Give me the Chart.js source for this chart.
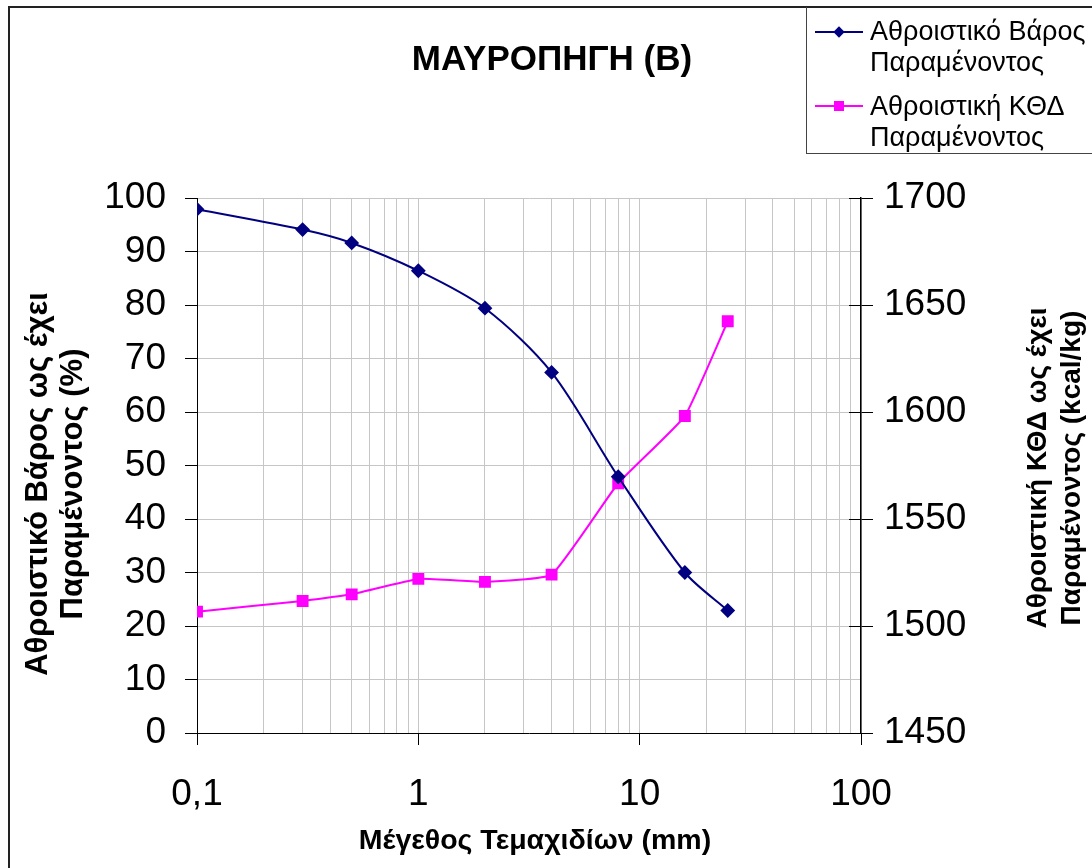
<!DOCTYPE html>
<html lang="el">
<head>
<meta charset="utf-8">
<title>ΜΑΥΡΟΠΗΓΗ (Β)</title>
<script src="https://cdn.jsdelivr.net/npm/chart.js@4.4.1/dist/chart.umd.min.js"></script>
<style>
  html, body { margin: 0; padding: 0; background: #fff; }
  #wrap { position: relative; width: 1092px; height: 868px; overflow: hidden;
          font-family: "Liberation Sans", Arial, sans-serif; color: #000; }
  #chart { position: absolute; left: 0; top: 0; }
  #frame { position: absolute; left: 8px; top: 6px; width: 1300px; height: 1100px;
           border-left: 2px solid #222; border-top: 2px solid #222; pointer-events: none; }
  #legendBox { position: absolute; left: 806px; top: 7px; width: 400px; height: 146px;
               border-left: 1px solid #444; border-bottom: 1px solid #444; }
  .lg-line { position: absolute; left: 815px; width: 48px; height: 2px; }
  .lg-mark { position: absolute; left: 50%; top: 50%; }
  .lg-text { position: absolute; left: 870px; font-size: 27px; line-height: 31px; white-space: nowrap; }
  #title { position: absolute; left: 352px; width: 400px; top: 40px; text-align: center;
           font-weight: bold; font-size: 35px; line-height: 35px; white-space: nowrap; }
  #xTitle { position: absolute; left: 285px; width: 500px; top: 825px; text-align: center;
            font-weight: bold; font-size: 28.5px; line-height: 28px; white-space: nowrap; }
  .yTitle { position: absolute; width: 520px; text-align: center;
            font-weight: bold; white-space: nowrap;
            transform: rotate(-90deg); transform-origin: 50% 50%; }
</style>
</head>
<body>
<div id="wrap">
  <canvas id="chart" width="1092" height="868"></canvas>
  <div id="frame"></div>
  <div id="title">ΜΑΥΡΟΠΗΓΗ (Β)</div>
  <div id="legendBox"></div>
  <div class="lg-line" style="top:31px;background:#000080;">
    <div class="lg-mark" style="width:8px;height:8px;margin:-4px 0 0 -4px;background:#000080;transform:rotate(45deg);"></div>
  </div>
  <div class="lg-text" style="top:16px;">Αθροιστικό Βάρος<br>Παραμένοντος</div>
  <div class="lg-line" style="top:105px;background:#ff00ff;">
    <div class="lg-mark" style="width:10px;height:10px;margin:-5px 0 0 -5px;background:#ff00ff;"></div>
  </div>
  <div class="lg-text" style="top:91px;">Αθροιστική ΚΘΔ<br>Παραμένοντος</div>
  <div class="yTitle" style="left:-206px;top:449px;height:70px;font-size:31px;line-height:35px;">Αθροιστικό Βάρος ως έχει<br>Παραμένοντος (%)</div>
  <div class="yTitle" style="left:794px;top:434px;height:68px;font-size:28px;line-height:34px;">Αθροιστική ΚΘΔ ως έχει<br>Παραμένοντος (kcal/kg)</div>
  <div id="xTitle">Μέγεθος Τεμαχιδίων (mm)</div>
</div>
<script>
// Particle size classes (mm)
const sizes = [0.1, 0.3, 0.5, 1, 2, 4, 8, 16, 25];
// Cumulative retained weight (%)
const weightPct = [97.9, 94.1, 91.6, 86.4, 79.4, 67.4, 47.9, 30.0, 22.9];
// Cumulative retained calorific value (kcal/kg)
const calorific = [1506.7, 1511.7, 1514.8, 1522.0, 1520.6, 1524.0, 1566.7, 1598.1, 1642.4];

// Axis labelling
const xMajorTicks = [0.1, 1, 10, 100];
const xTickLabels = ['0,1', '1', '10', '100'];
const xDecades = [0.1, 1, 10];
const seriesNames = ['Αθροιστικό Βάρος Παραμένοντος', 'Αθροιστική ΚΘΔ Παραμένοντος'];

const FONT = '"Liberation Sans", Arial, sans-serif';
const GRID = '#c6c6c6';

// short tick marks on the inner side of the right-hand axis
const innerTicks = {
  id: 'innerTicks',
  afterDraw(chart) {
    const s = chart.scales.y1, a = chart.chartArea, ctx = chart.ctx;
    ctx.save();
    ctx.strokeStyle = '#000';
    ctx.lineWidth = 1;
    s.ticks.forEach(t => {
      const y = Math.round(s.getPixelForValue(t.value)) + 0.5;
      ctx.beginPath();
      ctx.moveTo(a.right - 12, y);
      ctx.lineTo(a.right, y);
      ctx.stroke();
    });
    ctx.restore();
  }
};

new Chart(document.getElementById('chart'), {
  type: 'line',
  data: {
    datasets: [
      {
        label: seriesNames[0],
        data: sizes.map((s, i) => ({ x: s, y: weightPct[i] })),
        yAxisID: 'y',
        borderColor: '#000080',
        backgroundColor: '#000080',
        borderWidth: 2,
        pointStyle: 'rectRot',
        pointRadius: 6,
        tension: 0.3
      },
      {
        label: seriesNames[1],
        data: sizes.map((s, i) => ({ x: s, y: calorific[i] })),
        yAxisID: 'y1',
        borderColor: '#ff00ff',
        backgroundColor: '#ff00ff',
        borderWidth: 2,
        pointStyle: 'rect',
        pointRadius: 7,
        tension: 0.12
      }
    ]
  },
  options: {
    responsive: false,
    animation: false,
    layout: { padding: { top: 198, left: 0, right: 0, bottom: 0 } },
    plugins: { legend: { display: false }, title: { display: false }, tooltip: { enabled: false } },
    scales: {
      x: {
        type: 'logarithmic',
        min: 0.1,
        max: 100,
        afterBuildTicks(scale) {
          const vals = [];
          xDecades.forEach(d => { for (let k = 1; k <= 9; k++) vals.push(+(d * k).toPrecision(2)); });
          vals.push(100);
          scale.ticks = vals.map(v => ({ value: v, major: xMajorTicks.includes(v) }));
        },
        afterFit(scale) { scale.height = 868 - 733; },
        ticks: {
          autoSkip: false,
          maxRotation: 0,
          padding: 28,
          color: '#000',
          font: { family: FONT, size: 37 },
          callback(value) {
            const i = xMajorTicks.indexOf(+(+value).toPrecision(2));
            return i >= 0 ? xTickLabels[i] : '';
          }
        },
        grid: {
          color: GRID,
          lineWidth: 1,
          tickLength: 12,
          tickColor: c => (c.tick && c.tick.major ? '#000' : 'rgba(0,0,0,0)')
        },
        border: { color: '#000', width: 1 }
      },
      y: {
        position: 'left',
        min: 0,
        max: 100,
        afterFit(scale) { scale.width = 197; },
        ticks: { stepSize: 10, padding: 19, color: '#000', font: { family: FONT, size: 37 } },
        grid: { color: GRID, lineWidth: 1, tickLength: 12, tickColor: '#000' },
        border: { color: '#000', width: 1 }
      },
      y1: {
        position: 'right',
        min: 1450,
        max: 1700,
        afterFit(scale) { scale.width = 1092 - 861; },
        ticks: {
          stepSize: 50, padding: 11, color: '#000', font: { family: FONT, size: 37 },
          callback: value => String(value)
        },
        grid: { drawOnChartArea: false, tickLength: 12, tickColor: '#000' },
        border: { color: '#000', width: 1.5 }
      }
    }
  },
  plugins: [innerTicks]
});
</script>
</body>
</html>
